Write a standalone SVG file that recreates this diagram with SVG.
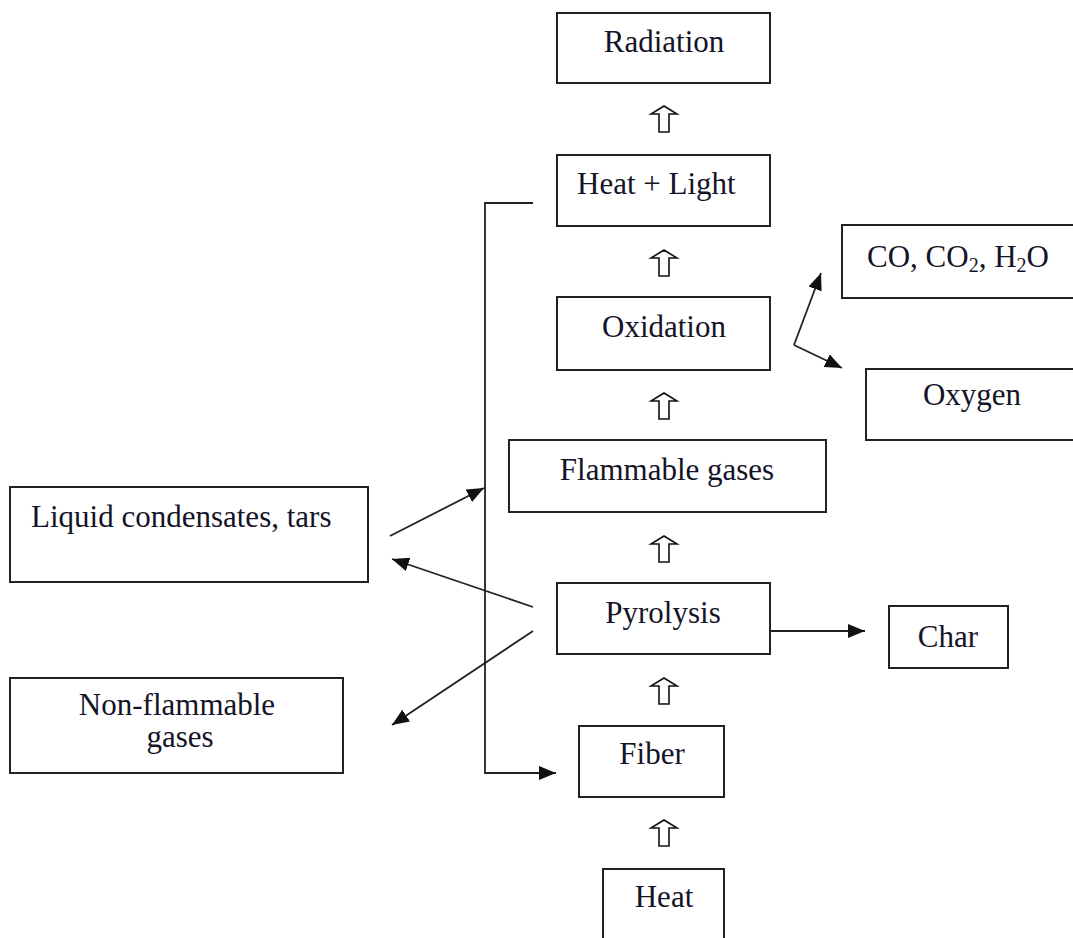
<svg xmlns="http://www.w3.org/2000/svg" width="1073" height="938" viewBox="0 0 1073 938">
<style>
.box{fill:#fff;stroke:#222;stroke-width:2}
.t{font-family:"Liberation Serif","Times New Roman",serif;font-size:31px;fill:#141428}
.c{text-anchor:middle}
.ln{fill:none;stroke:#222;stroke-width:1.8}
.ha{fill:#fff;stroke:#111;stroke-width:1.6;stroke-linejoin:miter}
</style>
<defs>
<marker id="ah" markerUnits="userSpaceOnUse" markerWidth="18" markerHeight="14" viewBox="0 0 18 14" refX="17" refY="7" orient="auto">
<path d="M0,0 L17,7 L0,14 Z" fill="#111"/>
</marker>
<polygon id="hollow" points="0,0 13,8 5,8 5,26 -5,26 -5,8 -13,8" class="ha"/>
</defs>
<rect width="1073" height="938" fill="#fff"/>

<g id="radiation"><rect class="box" x="557" y="13" width="213" height="70"/><text class="t c" x="664" y="52">Radiation</text></g>
<g id="heat-light"><rect class="box" x="557" y="155" width="213" height="71"/><text class="t" x="577" y="194">Heat + Light</text></g>
<g id="co-co2-h2o"><rect class="box" x="842" y="225" width="240" height="73"/><text class="t" x="867" y="267">CO, CO<tspan font-size="20" dy="5">2</tspan><tspan dy="-5">, H</tspan><tspan font-size="20" dy="5">2</tspan><tspan dy="-5">O</tspan></text></g>
<g id="oxidation"><rect class="box" x="557" y="297" width="213" height="73"/><text class="t c" x="664" y="337">Oxidation</text></g>
<g id="oxygen"><rect class="box" x="866" y="369" width="220" height="71"/><text class="t c" x="972" y="405">Oxygen</text></g>
<g id="flammable-gases"><rect class="box" x="509" y="440" width="317" height="72"/><text class="t c" x="667" y="480">Flammable gases</text></g>
<g id="liquid-condensates"><rect class="box" x="10" y="487" width="358" height="95"/><text class="t" x="31" y="527">Liquid condensates, tars</text></g>
<g id="pyrolysis"><rect class="box" x="557" y="583" width="213" height="71"/><text class="t c" x="663" y="623">Pyrolysis</text></g>
<g id="char"><rect class="box" x="889" y="606" width="119" height="62"/><text class="t c" x="948" y="647">Char</text></g>
<g id="non-flammable"><rect class="box" x="10" y="678" width="333" height="95"/><text class="t c" x="177" y="715">Non-flammable</text><text class="t c" x="180" y="747">gases</text></g>
<g id="fiber"><rect class="box" x="579" y="726" width="145" height="71"/><text class="t c" x="652" y="764">Fiber</text></g>
<g id="heat"><rect class="box" x="603" y="869" width="121" height="80"/><text class="t c" x="664" y="907">Heat</text></g>

<g id="connectors">
<use href="#hollow" x="664" y="106"/>
<use href="#hollow" x="664" y="250"/>
<use href="#hollow" x="664" y="393"/>
<use href="#hollow" x="664" y="536"/>
<use href="#hollow" x="664" y="678"/>
<use href="#hollow" x="664" y="820"/>
<path class="ln" d="M794,345 L821,273" marker-end="url(#ah)"/>
<path class="ln" d="M794,345 L842,368" marker-end="url(#ah)"/>
<path class="ln" d="M770,631 L865,631" marker-end="url(#ah)"/>
<path class="ln" d="M390,536 L484,488" marker-end="url(#ah)"/>
<path class="ln" d="M533,607 L392,559" marker-end="url(#ah)"/>
<path class="ln" d="M533,631 L392,725" marker-end="url(#ah)"/>
<path class="ln" d="M533,203 L485,203 L485,773 L556,773" marker-end="url(#ah)"/>
</g>
</svg>
